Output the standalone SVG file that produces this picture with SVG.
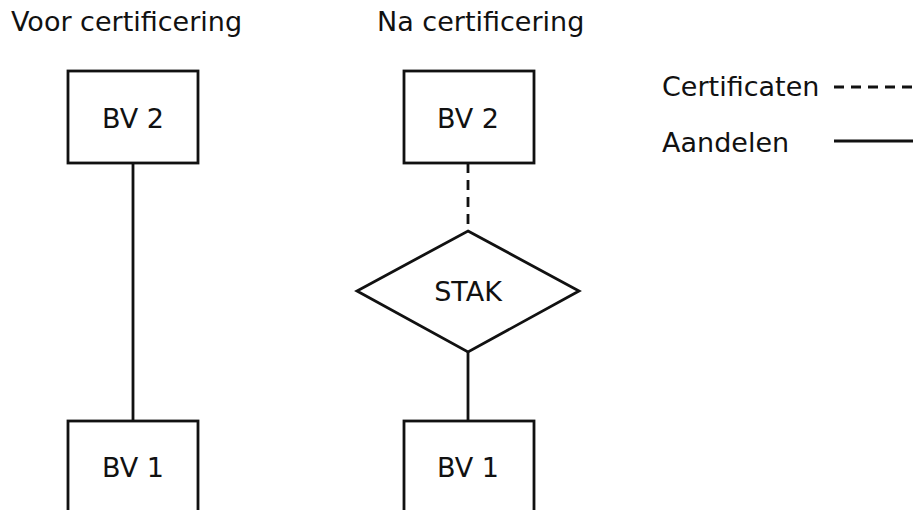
<svg xmlns="http://www.w3.org/2000/svg" width="913" height="510" viewBox="0 0 913 510">
<style>
text{font-family:"DejaVu Sans","Liberation Sans",sans-serif;font-size:27px;fill:#111}
.shape{fill:#fff;stroke:#111;stroke-width:2.8}
.line{stroke:#111;stroke-width:2.8;fill:none}
.dash{stroke-dasharray:10 7}
.c{text-anchor:middle}
</style>
<rect width="913" height="510" fill="#fff"/>
<text x="11" y="31">Voor certificering</text>
<text x="377" y="31">Na certificering</text>
<g id="connectors">
<line class="line" x1="133" y1="163" x2="133" y2="421"/>
<line class="line dash" x1="468" y1="163" x2="468" y2="231"/>
<line class="line" x1="468" y1="352" x2="468" y2="421"/>
</g>
<g id="bv2-left"><rect class="shape" x="68" y="71" width="130" height="92"/><text class="c" x="133" y="128">BV 2</text></g>
<g id="bv1-left"><rect class="shape" x="68" y="421" width="130" height="100"/><text class="c" x="133" y="477">BV 1</text></g>
<g id="bv2-right"><rect class="shape" x="404" y="71" width="130" height="92"/><text class="c" x="468" y="128">BV 2</text></g>
<g id="stak"><polygon class="shape" points="468,231 579,291 468,352 357,291"/><text class="c" x="468" y="301">STAK</text></g>
<g id="bv1-right"><rect class="shape" x="404" y="421" width="130" height="100"/><text class="c" x="468" y="477">BV 1</text></g>
<g id="legend">
<text x="662" y="96">Certificaten</text>
<line class="line dash" x1="834" y1="87" x2="913" y2="87"/>
<text x="662" y="152">Aandelen</text>
<line class="line" x1="834" y1="141" x2="913" y2="141"/>
</g>
</svg>
